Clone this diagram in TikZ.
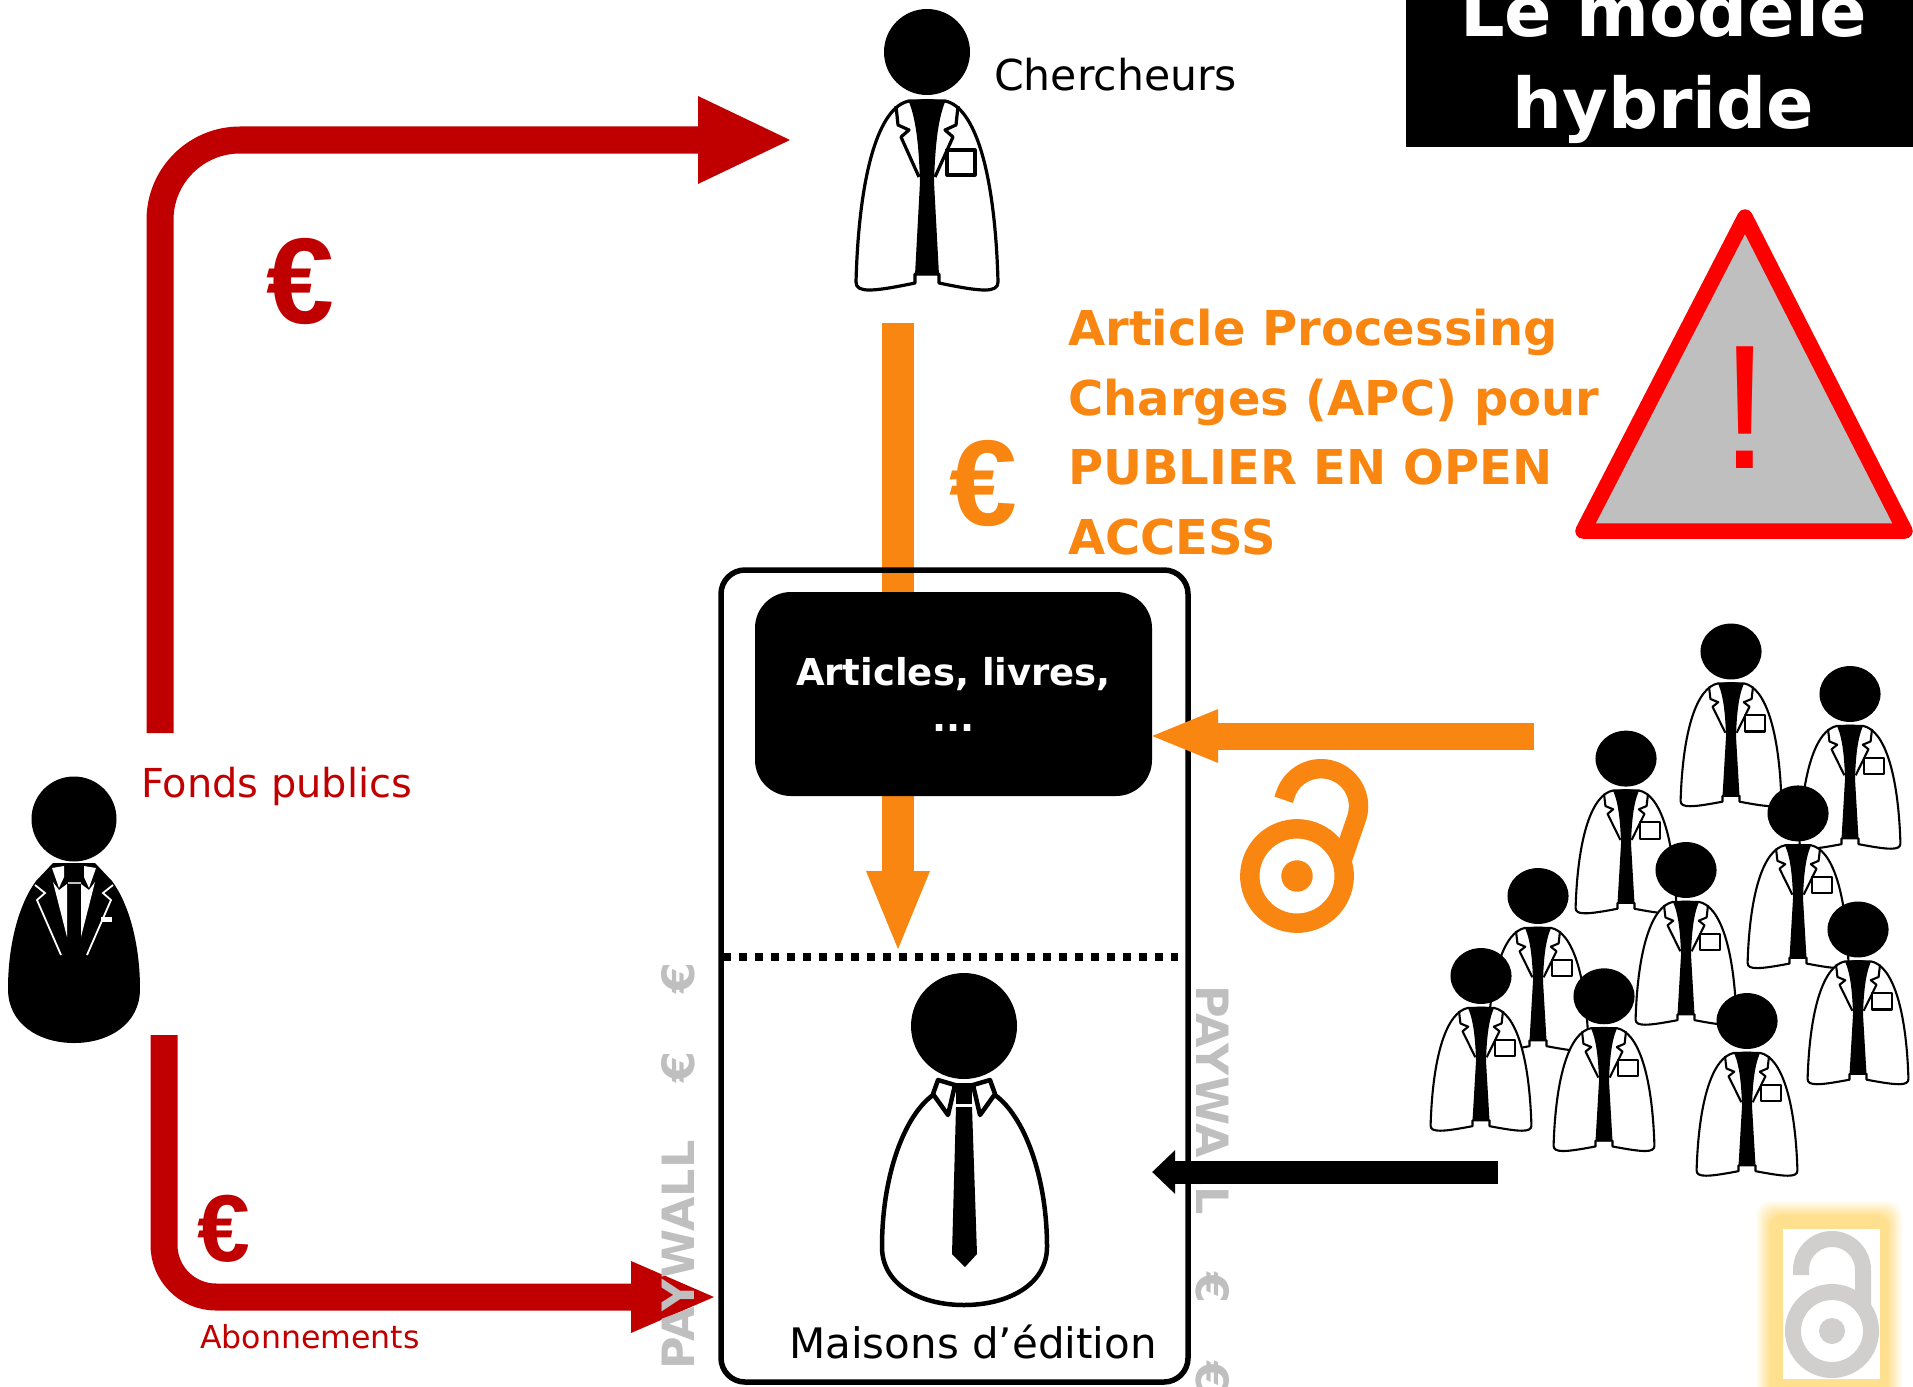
\documentclass[tikz,border=0pt]{standalone}
\usepackage{fontspec}
\setmainfont{DejaVu Sans}
\newfontfamily\warnfont{Liberation Sans}
\usetikzlibrary{arrows.meta,positioning}
\definecolor{fundred}{HTML}{C00000}
\definecolor{apcorange}{HTML}{F88611}
\definecolor{wallgrey}{HTML}{BFBFBF}
\definecolor{lockgrey}{HTML}{D0CFCD}
\definecolor{glowyellow}{HTML}{FFE08F}
\newcommand\fsize[2]{\fontsize{#1}{#2}\selectfont}
\tikzset{
    labcoat/.pic={
        \fill (0,0) circle (43);
        \draw[fill=white, line join=round] (-18,49) .. controls (-48,55) and (-68,120) .. (-71,230)
            .. controls (-71,241) and (-55,240) .. (-12,231) -- (-12,222) -- (12,222) -- (12,231)
            .. controls (55,240) and (71,241) .. (71,230) .. controls (68,120) and (48,55) .. (18,49) -- cycle;
        \fill (-18,50) .. controls (-8,46) and (8,46) .. (18,50) .. controls (10,70) and (8,100) .. (7,130)
            -- (12,223) -- (-12,223) -- (-7,130) .. controls (-8,100) and (-10,70) .. (-18,50) -- cycle;
        \draw[line join=round] (-31,54) -- (-29,73) -- (-18,78) -- (-26,85) -- (-8,125);
        \draw[line join=round] (31,54) -- (29,73) -- (18,78) -- (26,85) -- (8,125);
        \draw[line join=round] (20,98) rectangle (48,123);
    },
    suitman/.pic={
        \fill (0,0) circle (42.5);
        \fill (-21,44) -- (21,44) -- (38,62) .. controls (55,85) and (66,125) .. (66,170)
            .. controls (66,205) and (35,224) .. (0,224) .. controls (-35,224) and (-66,205) .. (-66,170)
            .. controls (-66,125) and (-55,85) .. (-38,62) -- cycle;
        \fill[white] (-22,49) -- (-10,47) -- (-10,58) -- (-15,69) -- cycle;
        \fill[white] (22,49) -- (10,47) -- (10,58) -- (15,69) -- cycle;
        \fill[white] (-21,63) -- (-7,118) -- (-7,65) -- (-15,71) -- cycle;
        \fill[white] (21,63) -- (7,118) -- (7,65) -- (15,71) -- cycle;
        \draw[white] (-39,66) -- (-29,74) -- (-37,81) -- (-13,136);
        \draw[white] (39,66) -- (29,74) -- (37,81) -- (13,136);
        \fill[white] (27,98) rectangle (38,103);
        \draw[wallgrey] (-6,64) -- (7,64);
    },
    publisher/.pic={
        \fill (0,0) circle (53);
        \draw[fill=white, line join=round] (-31,69) .. controls (-60,90) and (-82,150) .. (-82,221)
            .. controls (-82,258) and (-45,279) .. (0,279) .. controls (45,279) and (83,258) .. (83,221)
            .. controls (83,150) and (60,90) .. (31,69);
        \draw[fill=white, line join=round] (-26,54) -- (-9,59) -- (-16,89) -- (-31,68) -- cycle;
        \draw[fill=white, line join=round] (26,54) -- (9,59) -- (16,89) -- (31,68) -- cycle;
        \draw (-9,59) -- (9,59);
        \fill (-8,60) rectangle (8,78);
        \fill (-8,81) -- (8,81) -- (13,228) -- (1,241) -- (-12,228) -- cycle;
    },
    oalock/.pic={
        \draw (0,0) circle (39);
        \fill (0,0) circle (13);
        \draw (-31,-56) -- (-31,-61) arc (180:360:31) -- (31,-26);
    },
    redline/.style={fundred, line width=27pt, rounded corners=#1},
    orangeline/.style={apcorange, line width=#1},
    bigeuro/.style={anchor=base, inner sep=0pt, font=\warnfont\bfseries\fsize{#1}{#1}},
    wall/.style={anchor=base west, inner sep=0pt, text=wallgrey, font=\bfseries\fsize{44.5}{45}},
    reflabel/.style={anchor=base west, inner sep=0pt},
}
\begin{document}
\begin{tikzpicture}[x=1pt, y=-1pt]
    \useasboundingbox (0,0) rectangle (1913,1386);

    \coordinate (fundstart) at (160,733);
    \coordinate (fundbend) at (160,140);
    \coordinate (fundtip) at (790,140);
    \coordinate (subsstart) at (164,1035);
    \coordinate (subsbend) at (164,1297);
    \coordinate (substip) at (714,1297);
    \coordinate (apcstart) at (898,323);
    \coordinate (apctip) at (898,949);
    \coordinate (oastart) at (1534,736);
    \coordinate (readstart) at (1498,1172);
    \coordinate (dotleft) at (723,957);
    \coordinate (dotright) at (1178,957);

    \draw[orangeline=32pt, -{Triangle[length=78pt,width=64pt,line width=0pt]}] (apcstart) -- (apctip);

    \node[draw, line width=5.5pt, rounded corners=24pt, minimum width=467pt, minimum height=812pt, inner sep=0pt] (house) at (954.5,976) {};
    \node[fill=black, text=white, rounded corners=36pt, minimum width=397pt, minimum height=204pt, inner sep=0pt, align=center, font=\bfseries\fsize{37}{46}] (articles) at (953.5,694) {Articles, livres,\\...};
    \draw[line width=8pt, dash pattern=on 8pt off 8pt] (dotleft) -- (dotright);

    \draw[redline=80pt, -{Triangle[length=92pt,width=88pt,line width=0pt]}] (fundstart) -- (fundbend) -- (fundtip);
    \draw[redline=52pt, -{Triangle[length=83pt,width=72pt,line width=0pt]}] (subsstart) -- (subsbend) -- (substip);
    \draw[orangeline=27pt, -{Triangle[length=66pt,width=54pt,line width=0pt]}] (oastart) -- (articles.east |- oastart);

    \node[wall, rotate=90] (wallleft) at (694,1370) {PAYWALL\hspace{58pt}€\hspace{58pt}€};
    \node[wall, rotate=-90] (wallright) at (1196,985) {PAYWALL\hspace{58pt}€\hspace{58pt}€};

    \draw[line width=23pt, -{Triangle[length=23pt,width=44pt,line width=0pt]}] (readstart) -- (articles.east |- readstart);

    \pic[line width=3.2pt] at (927,52) {labcoat};
    \pic[line width=1.8pt] at (74,819) {suitman};
    \pic[line width=4.5pt] at (964,1026) {publisher};

    \foreach \cx/\cy in {1731/651.5, 1850/694, 1626/758.6, 1798/813.4, 1686/870, 1538/896, 1858/929.5, 1481/976, 1604/996.3, 1747/1021}
        \pic[xscale=.71, yscale=.65, line width=2.1pt] at (\cx,\cy) {labcoat};

    \node[bigeuro=122, text=fundred] (eurofund) at (300,323) {€};
    \node[bigeuro=122, text=apcorange] (euroapc) at (983,525) {€};
    \node[bigeuro=95, text=fundred] (eurosubs) at (224,1261) {€};

    \node[reflabel, font=\fsize{42.6}{43}] (researchers) at (994,91) {Chercheurs};
    \node[reflabel, text=fundred, font=\fsize{39.9}{40}] (fundlabel) at (141,797) {Fonds publics};
    \node[reflabel, text=fundred, font=\fsize{31.6}{32}] (subslabel) at (200,1348) {Abonnements};
    \node[reflabel, font=\fsize{42}{42}] (publabel) at (789,1358) {Maisons d’édition};
    \node[anchor=north west, inner sep=0pt, text=apcorange, align=left, font=\bfseries\fsize{48}{69.5}] (apclabel) at (1068,309) {Article Processing\\Charges (APC) pour\\PUBLIER EN OPEN\\ACCESS};

    \node[fill=black, text=white, minimum width=515pt, minimum height=170pt, inner sep=0pt, align=center, font=\bfseries\fsize{70}{92}] (title) at (1663.5,62) {Le modèle\\hybride};

    \draw[red, fill=wallgrey, line width=15.5pt, line join=round] (1745,217) -- (1905,531) -- (1583,531) -- cycle;
    \node[anchor=base, inner sep=0pt, text=red, font=\warnfont\fsize{177}{177}] (warning) at (1745,468) {!};

    \pic[color=apcorange, scale=1.21, rotate=-19, line width=19.4pt] at (1297,876) {oalock};

    \foreach \d [evaluate=\d as \p using 100-6.6*\d] in {15,...,0}
        \fill[glowyellow!\p!white, rounded corners=14pt] (1770-\d,1215-\d) rectangle (1888+\d,1400);
    \fill[white] (1783,1229) rectangle (1880,1379);
    \pic[color=lockgrey, line width=16pt] at (1832,1331) {oalock};
\end{tikzpicture}
\end{document}
